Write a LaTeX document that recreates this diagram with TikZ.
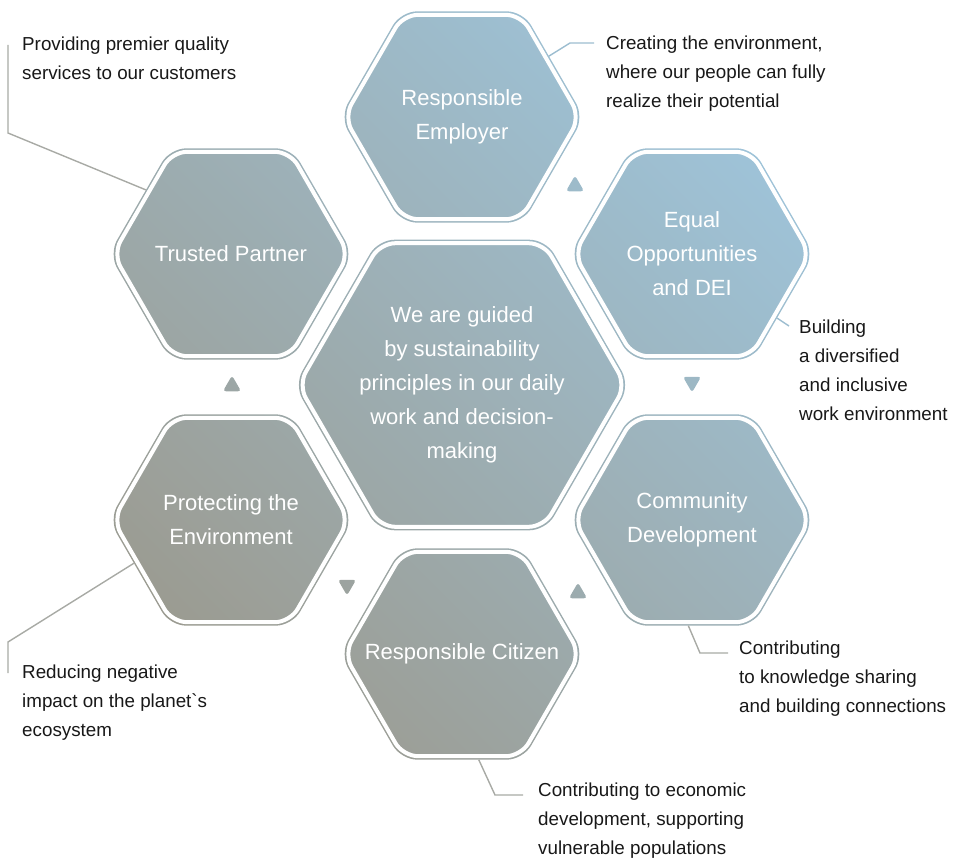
\documentclass[tikz,border=0pt]{standalone}
\usepackage{fontspec}
\setmainfont{Liberation Sans}
\usetikzlibrary{shapes.geometric, backgrounds, calc}

\definecolor{hexblue}{RGB}{158,198,222}
\definecolor{hextaupe}{RGB}{155,150,136}
\definecolor{linkblue}{RGB}{156,189,208}
\definecolor{linkgrey}{RGB}{168,170,165}
\definecolor{notetext}{RGB}{24,24,24}

\tikzstyle{hexa} = [regular polygon, regular polygon sides=6, minimum size=244pt, inner sep=0pt, outer sep=0pt, text=white, align=center, font=\fontsize{22}{34}\selectfont]
\tikzstyle{corehexa} = [hexa, minimum size=332pt]
\tikzstyle{tri} = [regular polygon, regular polygon sides=3, minimum size=21pt, inner sep=0pt, outer sep=0pt]
\tikzstyle{trid} = [tri, shape border rotate=180]
\tikzstyle{note} = [anchor=north west, inner sep=0pt, align=left, text=notetext, font=\fontsize{18.8}{29}\selectfont]
\tikzstyle{leader} = [line width=1.4pt, linkgrey]

\begin{document}
\begin{tikzpicture}[x=1pt, y=-1pt]
\useasboundingbox (0,0) rectangle (958,859);

% cells
\node (core) [corehexa] at (462,385) {We are guided\\by sustainability\\principles in our daily\\work and decision-\\making};
\node (re) [hexa] at (462,117) {Responsible\\Employer};
\node (tp) [hexa] at (231,254) {\makebox[0pt]{Trusted Partner}};
\node (eo) [hexa] at (692,254) {Equal\\Opportunities\\and DEI};
\node (pe) [hexa] at (231,520) {Protecting the\\Environment};
\node (cd) [hexa] at (692,520) {Community\\Development};
\node (rc) [hexa] at (462,654) {\makebox[0pt]{Responsible Citizen}};

% small triangles between the cells
\node (t1) [tri] at (575,186) {};
\node (t2) [trid] at (692,382) {};
\node (t3) [tri] at (578,593) {};
\node (t4) [trid] at (347,585) {};
\node (t5) [tri] at (232,386) {};

% gradient fill + white ring
\begin{scope}[on background layer]
  \clip [rounded corners=16pt] \foreach \h in {core,re,tp,eo,pe,cd,rc} {(\h.corner 1) -- (\h.corner 2) -- (\h.corner 3) -- (\h.corner 4) -- (\h.corner 5) -- (\h.corner 6) -- cycle}
        [rounded corners=3pt] \foreach \tr in {t1,t2,t3,t4,t5} {(\tr.corner 1) -- (\tr.corner 2) -- (\tr.corner 3) -- cycle};
  \shade [top color=hexblue, bottom color=hextaupe, shading angle=-45] (0,0) rectangle (958,859);
  \foreach \h in {core,re,tp,eo,pe,cd,rc}
    \draw [white, line width=4pt, rounded corners=15pt] ($(\h.corner 1)!4pt!(\h.center)$) -- ($(\h.corner 2)!4pt!(\h.center)$) -- ($(\h.corner 3)!4pt!(\h.center)$) -- ($(\h.corner 4)!4pt!(\h.center)$) -- ($(\h.corner 5)!4pt!(\h.center)$) -- ($(\h.corner 6)!4pt!(\h.center)$) -- cycle;
\end{scope}

% notes
\node (retxt) [note] at (606,36) {Creating the environment,\\where our people can fully\\realize their potential};
\node (tptxt) [note] at (22,37) {Providing premier quality\\services to our customers};
\node (eotxt) [note] at (799,320) {Building\\a diversified\\and inclusive\\work environment};
\node (cdtxt) [note] at (739,641) {Contributing\\to knowledge sharing\\and building connections};
\node (rctxt) [note] at (538,783) {Contributing to economic\\development, supporting\\vulnerable populations};
\node (petxt) [note] at (22,665) {Reducing negative\\impact on the planet\textasciigrave s\\ecosystem};

% leaders
\coordinate (re-k) at (570,43);
\coordinate (re-e) at (594,43);
\coordinate (tp-k) at (8,133);
\coordinate (tp-e) at (8,45);
\coordinate (eo-e) at (789,326);
\coordinate (cd-k) at (700,653);
\coordinate (cd-e) at (728,653);
\coordinate (rc-k) at (495,795);
\coordinate (rc-e) at (523,795);
\coordinate (pe-k) at (8,642);
\coordinate (pe-e) at (8,673);

\draw [leader, linkblue] (re.35) -- (re-k) -- (re-e);
\draw [leader] (tp.143) -- (tp-k) -- (tp-e);
\draw [leader, linkblue] (eo.-37) -- (eo-e);
\draw [leader] (cd.268) -- (cd-k) -- (cd-e);
\draw [leader] (rc.-81) -- (rc-k) -- (rc-e);
\draw [leader] (pe.204) -- (pe-k) -- (pe-e);
\end{tikzpicture}
\end{document}
